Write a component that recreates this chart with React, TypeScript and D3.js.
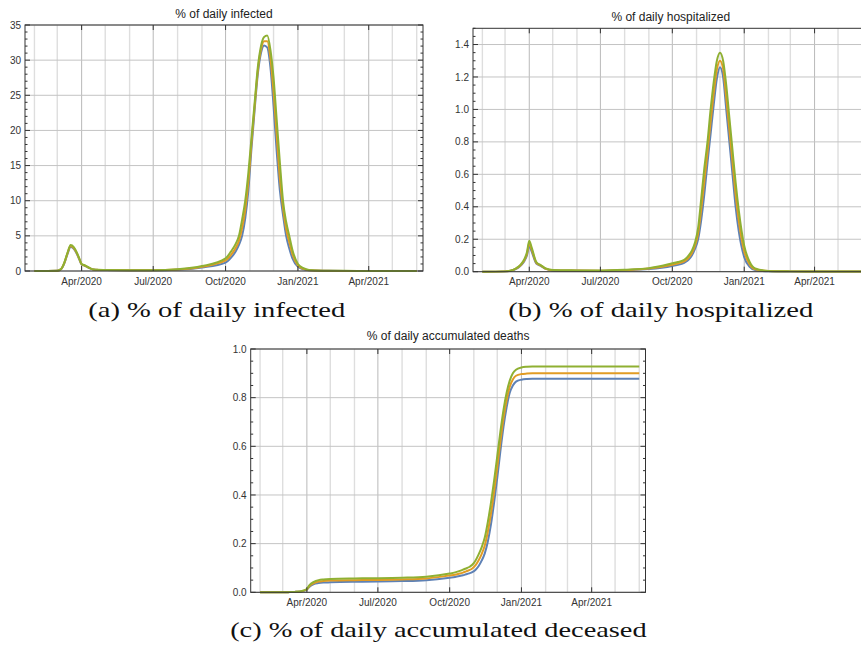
import React from 'react';
import * as d3 from 'd3';

const dates = [
  '2020-02-01', '2020-03-01', '2020-03-06', '2020-03-10', '2020-03-14', '2020-03-18', '2020-03-22', '2020-03-26',
  '2020-03-29', '2020-04-01', '2020-04-04', '2020-04-10', '2020-04-16', '2020-04-22', '2020-05-01', '2020-06-01',
  '2020-07-01', '2020-08-01', '2020-09-01', '2020-10-01', '2020-10-08', '2020-10-14', '2020-10-18', '2020-10-22',
  '2020-10-26', '2020-10-30', '2020-11-03', '2020-11-07', '2020-11-11', '2020-11-15', '2020-11-19', '2020-11-23',
  '2020-11-27', '2020-12-01', '2020-12-05', '2020-12-09', '2020-12-13', '2020-12-17', '2020-12-21', '2020-12-25',
  '2021-01-01', '2021-01-08', '2021-01-15', '2021-02-01', '2021-03-01', '2021-04-01', '2021-05-01', '2021-06-01',
];

// (a) % of daily infected
const infectedBlue = [
  0, 0.04, 0.28, 1.1, 2.4, 3.4, 3.15, 2.4, 1.65, 0.92, 0.8, 0.45, 0.2, 0.15, 0.13, 0.1,
  0.1, 0.18, 0.5, 1.2, 1.9, 2.8, 3.7, 5, 7.5, 11.5, 17.5, 23, 28, 31, 32.1, 31.8,
  29, 23.5, 17, 11.5, 8, 5, 3.2, 1.8, 0.6, 0.25, 0.1, 0.03, 0.01, 0.005, 0.005, 0.005,
];
const infectedOrange = [
  0, 0.045, 0.29, 1.15, 2.5, 3.55, 3.27, 2.5, 1.72, 0.96, 0.82, 0.47, 0.21, 0.16, 0.14, 0.11,
  0.11, 0.21, 0.6, 1.5, 2.3, 3.3, 4.3, 6.1, 8.7, 12.7, 18.3, 23.5, 28.5, 31.5, 32.7, 32.7,
  30.3, 25.5, 19.3, 13.2, 9, 6, 4.1, 2.4, 0.8, 0.3, 0.12, 0.04, 0.015, 0.008, 0.008, 0.008,
];
const infectedGreen = [
  0, 0.05, 0.3, 1.2, 2.6, 3.7, 3.4, 2.6, 1.8, 1.0, 0.85, 0.5, 0.22, 0.17, 0.15, 0.12,
  0.12, 0.25, 0.7, 1.8, 2.8, 3.9, 5.0, 7.3, 10, 14, 19, 24, 29, 32, 33.3, 33.5,
  31.5, 27.5, 21.5, 15.5, 10, 7, 5, 3, 1.0, 0.4, 0.15, 0.05, 0.02, 0.01, 0.01, 0.01,
];

// (b) % of daily hospitalized
const hospBlue = [
  0, 0.002, 0.004, 0.008, 0.015, 0.025, 0.042, 0.068, 0.1, 0.16, 0.125, 0.05, 0.035, 0.017, 0.008, 0.006,
  0.005, 0.009, 0.016, 0.035, 0.042, 0.05, 0.06, 0.075, 0.1, 0.14, 0.2, 0.32, 0.48, 0.67, 0.85, 1.03,
  1.19, 1.26, 1.2, 1.0, 0.8, 0.6, 0.4, 0.25, 0.09, 0.03, 0.01, 0.003, 0.001, 0.001, 0.001, 0.001,
];
const hospOrange = [
  0, 0.002, 0.0045, 0.009, 0.016, 0.028, 0.046, 0.074, 0.11, 0.175, 0.138, 0.055, 0.037, 0.018, 0.009, 0.007,
  0.006, 0.01, 0.019, 0.043, 0.051, 0.059, 0.07, 0.087, 0.115, 0.16, 0.235, 0.385, 0.56, 0.735, 0.925, 1.1,
  1.245, 1.3, 1.25, 1.07, 0.875, 0.675, 0.475, 0.315, 0.125, 0.045, 0.015, 0.004, 0.002, 0.001, 0.001, 0.001,
];
const hospGreen = [
  0, 0.002, 0.005, 0.01, 0.018, 0.03, 0.05, 0.08, 0.12, 0.19, 0.15, 0.06, 0.04, 0.02, 0.01, 0.008,
  0.007, 0.012, 0.022, 0.052, 0.06, 0.068, 0.08, 0.1, 0.13, 0.18, 0.27, 0.45, 0.64, 0.8, 1.0, 1.17,
  1.3, 1.35, 1.3, 1.15, 0.95, 0.75, 0.55, 0.38, 0.16, 0.06, 0.02, 0.005, 0.002, 0.001, 0.001, 0.001,
];

// (c) % of daily accumulated deaths
const deathsBlue = [
  0, 0, 0, 0.001, 0.001, 0.002, 0.002, 0.004, 0.007, 0.011, 0.022, 0.034, 0.038, 0.04, 0.041, 0.043,
  0.044, 0.046, 0.05, 0.06, 0.063, 0.067, 0.07, 0.074, 0.078, 0.083, 0.092, 0.107, 0.13, 0.16, 0.21, 0.28,
  0.37, 0.47, 0.58, 0.68, 0.76, 0.82, 0.85, 0.866, 0.874, 0.877, 0.878, 0.878, 0.878, 0.878, 0.878, 0.878,
];
const deathsOrange = [
  0, 0, 0, 0.001, 0.001, 0.002, 0.0025, 0.005, 0.008, 0.012, 0.025, 0.038, 0.044, 0.046, 0.048, 0.05,
  0.051, 0.053, 0.057, 0.069, 0.072, 0.077, 0.081, 0.086, 0.091, 0.098, 0.111, 0.131, 0.157, 0.192, 0.25, 0.325,
  0.415, 0.515, 0.62, 0.715, 0.79, 0.845, 0.875, 0.89, 0.897, 0.899, 0.9, 0.9, 0.9, 0.9, 0.9, 0.9,
];
const deathsGreen = [
  0, 0, 0, 0.001, 0.001, 0.002, 0.003, 0.006, 0.009, 0.014, 0.028, 0.043, 0.05, 0.053, 0.055, 0.057,
  0.058, 0.06, 0.064, 0.077, 0.082, 0.088, 0.093, 0.098, 0.104, 0.113, 0.13, 0.155, 0.185, 0.225, 0.29, 0.37,
  0.46, 0.56, 0.66, 0.75, 0.82, 0.87, 0.9, 0.915, 0.924, 0.927, 0.928, 0.928, 0.928, 0.928, 0.928, 0.928,
];

const titles = ['% of daily infected', '% of daily hospitalized', '% of daily accumulated deaths'];
const captions = ['(a) % of daily infected', '(b) % of daily hospitalized', '(c) % of daily accumulated deceased'];
const colors = ['#5E81B5', '#E19C24', '#8FB032'];

const parse = d3.timeParse('%Y-%m-%d');
const parsedDates = dates.map((d) => parse(d) as Date);
const domainStart = new Date(2020, 0, 20);
const domainEnd = new Date(2021, 5, 9);

type PanelProps = {
  left: number; right: number; top: number; bottom: number;
  yMax: number; major: number; minor: number; fmt: string;
  title: string; titleY: number; series: number[][];
  caption: string; capX: number; capY: number; capW: number;
};

const SANS = "'Liberation Sans', Arial, sans-serif";
const SERIF = "'Liberation Serif', 'Times New Roman', serif";

function Panel(p: PanelProps) {
  const x = d3.scaleTime().domain([domainStart, domainEnd]).range([p.left, p.right]);
  const y = d3.scaleLinear().domain([0, p.yMax]).range([p.bottom, p.top]);
  const months = d3.timeMonth.range(new Date(2020, 1, 1), new Date(2021, 5, 2));
  const quarters = months.filter((m) => m.getMonth() % 3 === 0);
  const nMaj = Math.round(p.yMax / p.major + 1e-9);
  const yMajor = d3.range(0, nMaj + 1).map((i) => i * p.major).filter((v) => v <= p.yMax + 1e-9);
  const nMin = Math.round(p.yMax / p.minor);
  const yMinor = d3.range(0, nMin + 1).map((i) => i * p.minor)
    .filter((v) => Math.abs(v / p.major - Math.round(v / p.major)) > 1e-6);
  const fmt = d3.format(p.fmt);
  const xfmt = d3.timeFormat('%b/%Y');
  const line = d3.line<number>()
    .x((_, i) => x(parsedDates[i]))
    .y((v) => y(v))
    .curve(d3.curveMonotoneX);
  const cx = (p.left + p.right) / 2;
  return (
    <g>
      {months.map((m, i) => {
        const q = m.getMonth() % 3 === 0;
        return (
          <line key={'vg' + i} x1={x(m)} x2={x(m)} y1={p.top} y2={p.bottom}
            stroke={q ? '#b9b9b9' : '#dedede'} strokeWidth={q ? 1 : 1.4} />
        );
      })}
      {yMajor.map((v, i) => (
        <line key={'hg' + i} x1={p.left} x2={p.right} y1={y(v)} y2={y(v)} stroke="#c4c4c4" strokeWidth={1} />
      ))}
      {p.series.map((s, k) => (
        <path key={'s' + k} d={line(s) || ''} fill="none" stroke={colors[k]} strokeWidth={2}
          strokeLinejoin="round" />
      ))}
      <rect x={p.left} y={p.top} width={p.right - p.left} height={p.bottom - p.top}
        fill="none" stroke="#333" strokeWidth={1} />
      {quarters.map((m, i) => (
        <g key={'xt' + i}>
          <line x1={x(m)} x2={x(m)} y1={p.bottom} y2={p.bottom - 5} stroke="#333" strokeWidth={1} />
          <line x1={x(m)} x2={x(m)} y1={p.top} y2={p.top + 5} stroke="#333" strokeWidth={1} />
          <text x={x(m)} y={p.bottom + 13.5} textAnchor="middle" style={{ fontFamily: SANS }} fontSize={10} fill="#333">
            {xfmt(m)}
          </text>
        </g>
      ))}
      {yMajor.map((v, i) => (
        <g key={'yt' + i}>
          <line x1={p.left} x2={p.left + 5} y1={y(v)} y2={y(v)} stroke="#333" strokeWidth={1} />
          <line x1={p.right} x2={p.right - 5} y1={y(v)} y2={y(v)} stroke="#333" strokeWidth={1} />
          <text x={p.left - 4} y={y(v) + 3.6} textAnchor="end" style={{ fontFamily: SANS }} fontSize={10} fill="#333">
            {fmt(v)}
          </text>
        </g>
      ))}
      {yMinor.map((v, i) => (
        <g key={'ym' + i}>
          <line x1={p.left} x2={p.left + 2.5} y1={y(v)} y2={y(v)} stroke="#333" strokeWidth={1} />
          <line x1={p.right} x2={p.right - 2.5} y1={y(v)} y2={y(v)} stroke="#333" strokeWidth={1} />
        </g>
      ))}
      <text x={cx} y={p.titleY} textAnchor="middle" style={{ fontFamily: SANS }} fontSize={12} fill="#222">
        {p.title}
      </text>
      <text x={p.capX} y={p.capY} textAnchor="middle" style={{ fontFamily: SERIF }}
        fontSize={22} fill="#111" textLength={p.capW} lengthAdjust="spacingAndGlyphs">
        {p.caption}
      </text>
    </g>
  );
}

export default function App() {
  return (
    <svg width={861} height={646} style={{ position: 'absolute', left: 0, top: 0, background: '#fff' }}>
      <rect x={0} y={0} width={861} height={646} fill="#fff" />
      <Panel left={25} right={423} top={25} bottom={271} yMax={35} major={5} minor={1} fmt="d"
        title={titles[0]} titleY={17.5} series={[infectedBlue, infectedOrange, infectedGreen]}
        caption={captions[0]} capX={216.7} capY={316.5} capW={257} />
      <Panel left={473} right={868.5} top={28.3} bottom={271.7} yMax={1.5} major={0.2} minor={0.05} fmt=".1f"
        title={titles[1]} titleY={21} series={[hospBlue, hospOrange, hospGreen]}
        caption={captions[1]} capX={660.8} capY={316.5} capW={305} />
      <Panel left={250.7} right={645.5} top={349} bottom={592.3} yMax={1} major={0.2} minor={0.05} fmt=".1f"
        title={titles[2]} titleY={339.5} series={[deathsBlue, deathsOrange, deathsGreen]}
        caption={captions[2]} capX={438.4} capY={636.5} capW={416.5} />
    </svg>
  );
}
